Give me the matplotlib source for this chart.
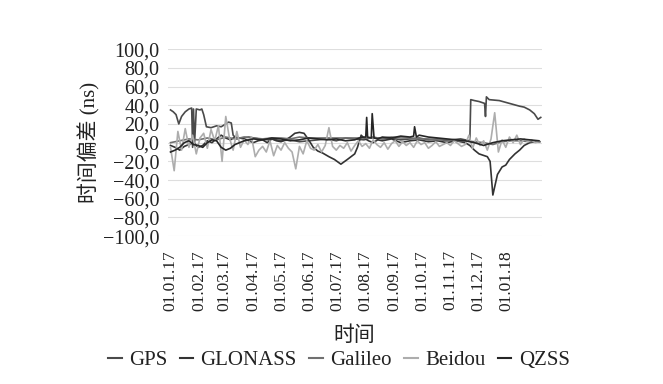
import matplotlib
matplotlib.use("Agg")
import matplotlib.pyplot as plt
from matplotlib.ticker import FuncFormatter, FixedLocator

plt.rcParams['font.family'] = ['Liberation Serif', 'Noto Sans CJK SC', 'DejaVu Sans']

# Tick positions (days since 01.01.17) and labels
tick_days = [0, 31, 59, 90, 120, 151, 181, 212, 243, 273, 304, 334, 365]
tick_labels = ["01.01.17", "01.02.17", "01.03.17", "01.04.17", "01.05.17", "01.06.17",
               "01.07.17", "01.08.17", "01.09.17", "01.10.17", "01.11.17", "01.12.17", "01.01.18"]

gps_days = [0, 3, 6, 9, 12, 16, 20, 23, 24, 25, 26, 28, 32, 34, 36, 39, 44, 50, 55, 60, 63, 66, 68, 72,
            76, 85, 96, 107, 110, 120, 130, 140, 150, 160, 170, 180, 190, 200, 210, 220, 230, 240, 250,
            260, 270, 280, 290, 300, 305, 315, 325, 326, 330, 335, 341, 342, 343, 346, 357, 368, 379,
            384, 390, 395, 399, 402]
gps_vals = [35, 33, 30, 20, 28, 33, 36, 37, -5, 36, -3, 36, 35, 36, 30, 17, 16, 18, 17, 20, 22, 21, 8, 4,
            5, 6, 4, 3, 4, 2, 3, 1, 2, 3, 4, 2, 5, 4, 3, 6, 4, 5, 3,
            4, 5, 3, 4, 2, 3, 4, 2, 46, 45, 44, 42, 28, 49, 46, 45, 42, 39,
            38, 35, 31, 25, 27]

glonass_days = [0, 5, 10, 15, 20, 25, 30, 35, 40, 45, 50, 55, 60, 65, 70, 75, 80, 85, 90, 95, 100, 105,
                110, 115, 120, 125, 130, 135, 140, 145, 150, 155, 160, 165, 172, 178, 185, 192, 196,
                200, 203, 207, 210, 215, 220, 225, 230, 240, 250, 260, 270, 280, 290, 300, 310, 320,
                325, 330, 335, 341, 344, 347, 350, 355, 360, 364, 368, 374, 379, 384, 390, 395, 401]
glonass_vals = [-3, -5, -8, -4, -2, 0, -5, -3, 2, 0, 4, 8, 5, 3, 6, 5, 4, 2, 0, 2, 3, 0,
                4, 2, 1, 3, 6, 10, 11, 10, 3, -5, -9, -11, -15, -18, -23, -18, -15,
                -12, -5, 8, 5, 2, 0, 3, 2, 4, 0, 2, 3, 1, 2, 0, 2, 0,
                -3, -8, -12, -14, -15, -20, -56, -34, -26, -24, -18, -12, -8, -3, 0, 1, 1]

galileo_days = [0, 10, 20, 30, 40, 50, 60, 70, 80, 90, 100, 110, 120, 130, 140, 150, 160, 170, 180, 190,
                200, 210, 220, 230, 240, 250, 260, 270, 280, 290, 300, 310, 320, 330, 340, 350, 360,
                370, 380, 390, 400]
galileo_vals = [0, 2, 4, 3, 5, 3, 6, 4, 6, 5, 4, 5, 5, 4, 6, 5, 5, 5, 5, 5,
                5, 5, 5, 5, 6, 5, 5, 4, 4, 3, 3, 2, 2, 1, 0, -2, 1,
                2, 2, 1, 1]

beidou_days = list(range(0, 401, 4))
beidou_vals = [-5, -30, 12, -8, 15, -5, 8, -12, 5, 10, -6, 14, 2, 18, -20, 28, 5, -8, 12, -5,
               3, -2, 6, -15, -8, -4, -10, 2, -14, -3, -8, 0, -6, -10, -28, -4, -12, 2, -6, -8,
               -2, -10, -3, 16, -4, -8, -3, -6, 0, -9, -3, 2, -4, -1, -6, 3, -2, -5, 0, -7,
               -1, 2, -4, 1, -3, 0, -5, 2, -2, 0, -6, -3, 1, -4, -2, 0, -3, 2, -1, -4,
               -2, 8, -6, 5, -3, 2, -8, 4, 32, -10, 3, -5, 6, 0, 8, -2, 4, 1, 3, 0, 1]

qzss_days = [0, 5, 10, 15, 20, 25, 30, 35, 40, 45, 50, 55, 60, 65, 70, 75, 80, 90, 100, 110, 120, 130,
             140, 150, 160, 170, 180, 190, 200, 205, 210, 212, 213, 214, 218, 219, 221, 225, 230, 240,
             250, 260, 264, 265, 267, 270, 280, 290, 300, 310, 320, 330, 340, 350, 360, 370, 380, 390, 400]
qzss_vals = [-10, -8, -5, 0, 2, -2, -3, -5, 0, 3, 2, -5, -8, -6, -2, 0, 2, 4, 3, 5, 4, 2,
             3, 5, 4, 3, 4, 2, 3, 5, 6, 6, 27, 6, 5, 31, 5, 4, 6, 5,
             7, 6, 7, 17, 6, 8, 6, 5, 4, 3, 2, 0, -3, 0, 2, 3, 4, 3, 2]

series = [
    ("GPS", gps_days, gps_vals, "#4a4a4a"),
    ("GLONASS", glonass_days, glonass_vals, "#333333"),
    ("Galileo", galileo_days, galileo_vals, "#707070"),
    ("Beidou", beidou_days, beidou_vals, "#adadad"),
    ("QZSS", qzss_days, qzss_vals, "#262626"),
]

fig = plt.figure(figsize=(6.63, 3.84), dpi=100)
ax = fig.add_axes([0.253, 0.385, 0.564, 0.487])

for name, d, v, c in series:
    ax.plot(d, v, color=c, lw=1.2, label=name)

ax.set_ylim(-100, 100)
ax.set_xlim(-3, 403)
ax.yaxis.set_major_locator(FixedLocator(list(range(-100, 101, 20))))
ax.yaxis.set_major_formatter(FuncFormatter(lambda v, p: f"{v:.1f}".replace('.', ',').replace('-', '\u2212')))
ax.set_xticks(tick_days)
ax.set_xticklabels(tick_labels, rotation=90, fontsize=12.5, color="#222222")
ax.tick_params(axis='y', labelsize=14.5, colors="#222222", length=0, pad=6)
ax.tick_params(axis='x', length=0, pad=10)
ax.grid(axis='y', color="#dedede", lw=0.8)
ax.set_axisbelow(True)
for s in ax.spines.values():
    s.set_visible(False)

ax.set_ylabel("时间偏差 (ns)", fontsize=15, color="#222222", labelpad=2)
ax.set_xlabel("时间", fontsize=15, color="#222222", labelpad=11)

leg = fig.legend(loc='center', bbox_to_anchor=(0.511, 0.062), ncol=5, frameon=False,
                 fontsize=15, handlelength=0.65, handletextpad=0.35, columnspacing=0.6,
                 labelcolor="#222222")
for h in leg.get_lines():
    h.set_linewidth(1.5)

fig.savefig("out.png", dpi=100, facecolor="white")
